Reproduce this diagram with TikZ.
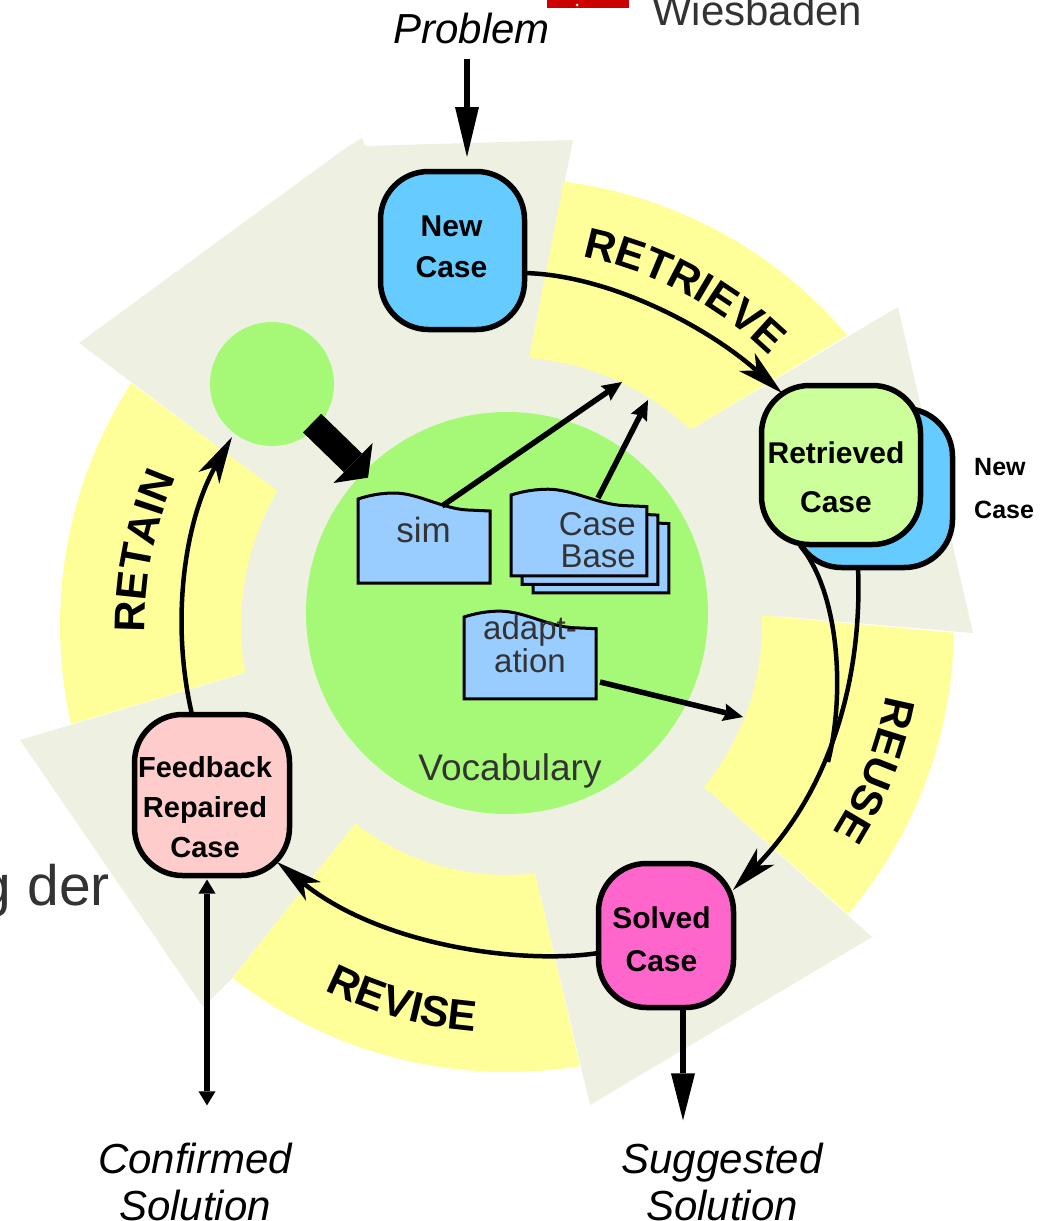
\documentclass[tikz,border=0pt]{standalone}
\usepackage{fontspec}
\setmainfont{Liberation Sans}
\usetikzlibrary{arrows.meta,calc,decorations.text}

\definecolor{ringgrey}{RGB}{238,241,226}
\definecolor{bandyellow}{RGB}{255,255,153}
\definecolor{vocgreen}{RGB}{166,249,119}
\definecolor{newblue}{RGB}{102,204,255}
\definecolor{retgreen}{RGB}{204,255,153}
\definecolor{solvedpink}{RGB}{255,102,204}
\definecolor{repairpink}{RGB}{255,204,204}
\definecolor{docblue}{RGB}{153,204,255}
\definecolor{textgrey}{RGB}{51,51,51}
\definecolor{logored}{RGB}{204,0,0}

\newcommand{\txtsize}[2]{\fontsize{#1}{#2}\selectfont}
\newcommand{\bandfont}{\bfseries\txtsize{43}{43}}

% yellow annular sector around the ring centre (507,625), outer radius 447
% #1,#2 outer start/end angle, #3,#4 inner start/end angle, #5 inner radius
\newcommand{\ringsector}[5]{%
  \fill[bandyellow]
    plot[domain=0:1, samples=80] ({507+447*cos((#1)+((#2)-(#1))*\x)}, {625+447*sin((#1)+((#2)-(#1))*\x)})
    -- plot[domain=0:1, samples=80] ({507+#5*cos((#4)+((#3)-(#4))*\x)}, {625+#5*sin((#4)+((#3)-(#4))*\x)})
    -- cycle;}

% phase name set along an arc: radius, start angle, end angle, text
\newcommand{\bandlabel}[4]{%
  \path[decorate, decoration={text along path, text align=center, text={|\bandfont|#4}}]
    plot[domain=0:1, samples=160] ({507+#1*cos((#2)+((#3)-(#2))*\x)}, {625+#1*sin((#2)+((#3)-(#2))*\x)});}

\tikzset{
  docpage/.pic={\path[fill=docblue, draw=black, line width=3pt]
      (0,0) .. controls (12,-4) and (24,-6) .. (36,-6)
      .. controls (60,-6) and (85,10) .. (110,11) -- (132,12) -- (132,84) -- (0,84) -- cycle;},
}

\begin{document}
\begin{tikzpicture}[x=1pt, y=-1pt,
  casebox/.style={draw=black, line width=5.5pt, rounded corners=48pt, inner sep=0pt, outer sep=0pt},
  casetext/.style={font=\bfseries\txtsize{30}{#1}, align=center, inner sep=0pt},
  iotext/.style={font=\itshape\txtsize{42}{47}, align=center, inner sep=0pt},
  doctext/.style={font=\txtsize{33}{33}, text=textgrey, align=center, inner sep=0pt},
  cyclearrow/.style={draw=black, line width=4.5pt, -{Stealth[length=47pt, width=24pt, inset=13pt, line width=0pt]}},
  cycleline/.style={draw=black, line width=4.5pt},
  docarrow/.style={draw=black, line width=5.5pt, -{Stealth[length=20pt, width=18pt, inset=3pt, line width=0pt]}},
  ioarrow/.style={draw=black, line width=6pt, -{Triangle[length=50pt, width=24pt, line width=0pt]}},
  fatarrow/.style={draw=black, line width=26pt, -{Triangle[length=21pt, width=56pt, line width=0pt]}},
  bothways/.style={draw=black, line width=5.5pt, {Triangle[length=14pt, width=17pt, line width=0pt]}-{Triangle[length=14pt, width=17pt, line width=0pt]}},
]
\fill[white] (0,0) rectangle (1043,1221);
\useasboundingbox (0,0) rectangle (1043,1221);
\clip (0,0) rectangle (1043,1221);

% pale circular arrow behind the phases
\fill[ringgrey] (507,625) circle[radius=272];
\fill[ringgrey] (79,343) -- (347,147) -- (362,138) -- (365,146) -- (573,140) -- (529,358) -- (507,625) -- (277,491) -- cycle;
\fill[ringgrey] (898,307) -- (973,633) -- (762,615) -- (507,625) -- (690,430) -- cycle;
\fill[ringgrey] (872,937) -- (590,1105) -- (535,873) -- (507,625) -- (702,785) -- cycle;
\fill[ringgrey] (20,740) -- (203,1007) -- (232,978) -- (355,824) -- (507,625) -- (245,673) -- cycle;

% the four phase bands
\ringsector{-82.7}{-40.4}{-85.3}{-46.8}{268}
\ringsector{1.0}{40.3}{-2.2}{39.4}{255}
\ringsector{80.6}{127.9}{83.5}{127.4}{250}
\ringsector{167.2}{212.8}{169.7}{210.3}{266}

% knowledge containers
\node[circle, fill=vocgreen, minimum size=402pt, inner sep=0pt] (vocab) at (507,613) {};
\node[circle, fill=vocgreen, minimum size=124pt, inner sep=0pt] (pool) at (272,384) {};

% phase names
\bandlabel{376}{-94}{-30}{RETRIEVE}
\bandlabel{386}{-12}{55}{REUSE}
\bandlabel{408}{140}{71}{REVISE}
\bandlabel{362}{158}{225}{RETAIN}

% documents inside the vocabulary
\pic at (358,499) {docpage};
\pic[xscale=1.03, yscale=0.964] at (533,512) {docpage};
\pic[xscale=1.03, yscale=0.964] at (522,503.5) {docpage};
\pic[xscale=1.03, yscale=0.964] at (511,495) {docpage};
\pic[yscale=0.976] at (464,617) {docpage};
\node[doctext, font=\txtsize{35}{35}, anchor=base] (sim) at (423.5,542) {sim};
\node[doctext, align=right, anchor=east, font=\txtsize{33}{32}] (casebase) at (636,540.5) {Case\\Base};
\node[doctext] (adapt) at (530,644.5) {adapt-\\ation};
\node[doctext, font=\txtsize{37}{37}, anchor=base] (voctext) at (510,780) {Vocabulary};

% cases
\node[casebox, fill=newblue, minimum width=144pt, minimum height=158pt] (newcase) at (452.5,250.5) {};
\node[casetext=41] (newcasetext) at (451.5,246.5) {New\\Case};
\node[casebox, fill=newblue, minimum width=159pt, minimum height=159pt] (retback) at (873,488) {};
\node[casebox, fill=retgreen, minimum width=159pt, minimum height=159pt] (retrieved) at (841,465) {};
\node[casetext=49] (retrievedtext) at (836,477.5) {Retrieved\\Case};
\node[font=\bfseries\txtsize{25}{43}, align=left, anchor=west, inner sep=0pt] (altcase) at (974,488.5) {New\\Case};
\node[casebox, fill=solvedpink, minimum width=135pt, minimum height=144pt] (solved) at (666,935.5) {};
\node[casetext=43] (solvedtext) at (661.5,939.5) {Solved\\Case};
\node[casebox, fill=repairpink, minimum width=155pt, minimum height=161pt] (feedback) at (212,795) {};
\node[casetext=40, font=\bfseries\txtsize{29}{40}] (feedbacktext) at (205,807) {Feedback\\Repaired\\Case};

% inputs and outputs
\node[iotext, anchor=base] (problem) at (471.5,43) {Problem};
\node[iotext] (confirmed) at (195,1181.5) {Confirmed\\Solution};
\node[iotext] (suggested) at (722,1181.5) {Suggested\\Solution};

% targets of the knowledge arrows
\coordinate (simgoal) at (622,382);
\coordinate (basegoal) at (648,400);
\coordinate (adaptgoal) at (743,717);
\coordinate (reusejoin) at (828,762);

% cycle
\draw[ioarrow] ($(problem.base)+(-4.5,16)$) -- ($(newcase.north)+(14.5,-14.5)$);
\draw[cyclearrow] ($(newcase.east)+(0,22.5)$) .. controls +(83,2) and +(-77,-68) .. ($(retrieved.center)+(-59,-72)$);
\draw[cycleline] ($(retrieved.south)+(-41,1)$) .. controls +(38,45) and +(18,-72) .. (reusejoin);
\draw[cyclearrow] ($(retback.south)+(-15,0)$) .. controls +(4,92) and +(107,-110) .. ($(solved.center)+(67,-45.5)$);
\draw[cyclearrow] ($(solved.west)+(0,17.5)$) .. controls +(-78.5,12) and +(103,83) .. ($(feedback.center)+(65,67)$);
\draw[cyclearrow] ($(feedback.north)+(-20,0)$) .. controls +(-22,-94.5) and +(-47,83) .. ($(pool.center)+(-40,53)$);
\draw[ioarrow, line width=5.5pt, -{Triangle[length=47pt, width=24pt, line width=0pt]}] ($(solved.south)+(17,0)$) -- ($(suggested.north)+(-39,-22)$);
\draw[bothways] ($(feedback.south)+(-5,4)$) -- ($(confirmed.north)+(12,-37)$);

% knowledge use
\draw[docarrow] ($(sim.base)+(18.5,-36)$) -- (simgoal);
\draw[docarrow] ($(casebase.east)+(-38,-42.5)$) -- (basegoal);
\draw[docarrow] ($(adapt.center)+(70,37.5)$) -- (adaptgoal);
\draw[fatarrow, shorten <=56pt, shorten >=194pt] (pool.center) -- (vocab.center);

% slide fragments at the edges
\fill[logored] (547,0) rectangle (629,8);
\fill[white] (577,5) circle[radius=1.5];
\node[font=\txtsize{42}{42}, text=textgrey, anchor=base west, inner sep=0pt] (town) at (652,25) {Wiesbaden};
\node[font=\txtsize{57}{57}, text=textgrey, anchor=base east, inner sep=0pt] (fragment) at (110,905) {g der};
\end{tikzpicture}
\end{document}
